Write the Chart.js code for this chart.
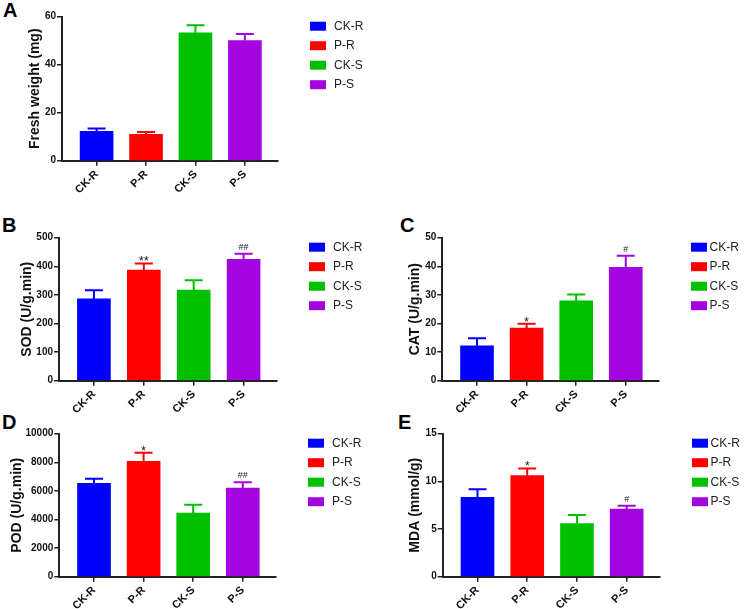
<!DOCTYPE html>
<html>
<head>
<meta charset="utf-8">
<script src="https://cdn.jsdelivr.net/npm/chart.js@4.4.1/dist/chart.umd.min.js"></script>
<style>
  body { margin: 0; background: #fff; }
  #wrap { position: relative; width: 746px; height: 609px; overflow: hidden; }
  canvas { position: absolute; }
  .tag { position: absolute; font: bold 20px "Liberation Sans", Arial, sans-serif; line-height: 20px; color: #000; }
</style>
</head>
<body>
<div id="wrap">
  <div class="tag" style="left:3px;top:0px">A</div>
  <div class="tag" style="left:2px;top:215px">B</div>
  <div class="tag" style="left:400px;top:215px">C</div>
  <div class="tag" style="left:2px;top:412px">D</div>
  <div class="tag" style="left:398px;top:412px">E</div>
  <canvas id="pA" width="350" height="215" style="left:23px;top:0px"></canvas>
  <canvas id="pB" width="358" height="215" style="left:15px;top:200px"></canvas>
  <canvas id="pC" width="342" height="215" style="left:403px;top:200px"></canvas>
  <canvas id="pD" width="368" height="215" style="left:5px;top:395px"></canvas>
  <canvas id="pE" width="342" height="215" style="left:403px;top:395px"></canvas>
</div>
<script>
const groups = ['CK-R', 'P-R', 'CK-S', 'P-S'];
const groupColors = ['#0000FF', '#FF0000', '#00C000', '#A305E0'];

// means and SD
const freshWeight = [12.2, 11.0, 53.3, 50.1];
const freshWeightSd = [1.2, 1.0, 3.1, 2.7];
const sod = [286, 387, 317, 424];
const sodSd = [30, 23, 34, 20];
const sodMarks = ['', '**', '', '##'];
const cat = [12.2, 18.4, 27.9, 39.6];
const catSd = [2.6, 1.5, 2.2, 4.1];
const catMarks = ['', '*', '', '#'];
const pod = [6530, 8065, 4450, 6200];
const podSd = [325, 605, 585, 400];
const podMarks = ['', '*', '', '##'];
const mda = [8.32, 10.6, 5.56, 7.1];
const mdaSd = [0.84, 0.76, 0.91, 0.35];
const mdaMarks = ['', '*', '', '#'];

const FONT = '"Liberation Sans", Arial, sans-serif';
const INK = '#111';

const errorBars = {
    id: 'errorBars',
    afterDatasetsDraw(chart, args, opts) {
        const ctx = chart.ctx;
        const xs = chart.scales.x, ys = chart.scales.y;
        ctx.save();
        opts.values.forEach((v, i) => {
            const x = xs.getPixelForValue(i);
            const y0 = ys.getPixelForValue(v);
            const y1 = ys.getPixelForValue(v + opts.sd[i]);
            ctx.strokeStyle = groupColors[i];
            ctx.lineWidth = 2;
            ctx.beginPath();
            ctx.moveTo(x, y0);
            ctx.lineTo(x, y1);
            ctx.moveTo(x - 9, y1);
            ctx.lineTo(x + 9, y1);
            ctx.stroke();
            const m = opts.marks ? opts.marks[i] : '';
            if (m) {
                ctx.fillStyle = '#222';
                ctx.textAlign = 'center';
                ctx.textBaseline = 'alphabetic';
                if (m[0] === '*') {
                    ctx.font = '13px ' + FONT;
                    ctx.fillText(m, x, y1 + 2);
                } else {
                    ctx.font = '9px ' + FONT;
                    ctx.fillText(m, x, y1 - 4);
                }
            }
        });
        ctx.restore();
    }
};

const sideLegend = {
    id: 'sideLegend',
    afterDraw(chart, args, opts) {
        const ctx = chart.ctx;
        const area = chart.chartArea;
        ctx.save();
        chart.data.datasets.forEach((ds, i) => {
            const bx = area.right + 32;
            const cy = area.top + 9.5 + i * 19.5;
            ctx.fillStyle = ds.backgroundColor;
            ctx.fillRect(bx, cy - 4.5, 16, 9);
            ctx.fillStyle = '#222';
            ctx.font = '12px ' + FONT;
            ctx.textAlign = 'left';
            ctx.textBaseline = 'middle';
            ctx.fillText(ds.label, bx + opts.textGap, cy);
        });
        ctx.restore();
    }
};

function makePanel(id, values, sd, marks, yMax, yStep, title, box) {
    const canvas = document.getElementById(id);
    const ctx = canvas.getContext('2d');
    return new Chart(ctx, {
        type: 'bar',
        data: {
            datasets: groups.map((g, i) => ({
                label: g,
                data: [{ x: i, y: values[i] }],
                backgroundColor: groupColors[i],
                borderWidth: 0,
                barThickness: 33,
                grouped: false
            }))
        },
        options: {
            responsive: false,
            animation: false,
            events: [],
            layout: { padding: { top: box.padTop, right: box.padRight, left: 0, bottom: 0 } },
            plugins: {
                legend: { display: false },
                tooltip: { enabled: false },
                errorBars: { values: values, sd: sd, marks: marks },
                sideLegend: { textGap: box.textGap }
            },
            scales: {
                x: {
                    type: 'linear',
                    offset: false,
                    min: -0.7,
                    max: 3.67,
                    afterBuildTicks: s => { s.ticks = groups.map((g, i) => ({ value: i })); },
                    afterFit: s => { s.height = box.xHeight; },
                    ticks: {
                        autoSkip: false,
                        minRotation: 45,
                        maxRotation: 45,
                        padding: 2,
                        color: INK,
                        font: { family: FONT, size: 11, weight: 'bold' },
                        callback: v => groups[v]
                    },
                    grid: { offset: false, drawOnChartArea: false, tickLength: 5, color: '#222', lineWidth: 1.5 },
                    border: { color: '#222', width: 2 }
                },
                y: {
                    min: 0,
                    max: yMax,
                    afterFit: s => { s.width = box.yWidth; },
                    ticks: {
                        stepSize: yStep,
                        padding: 1,
                        color: INK,
                        font: { family: FONT, size: 10, weight: 'bold' },
                        callback: v => String(v)
                    },
                    title: {
                        display: true,
                        text: title,
                        color: INK,
                        padding: { top: 4, bottom: 4 },
                        font: { family: FONT, size: 14, weight: 'bold' }
                    },
                    grid: { drawOnChartArea: false, tickLength: 5, color: '#222', lineWidth: 1.5 },
                    border: { color: '#222', width: 2 }
                }
            }
        },
        plugins: [errorBars, sideLegend]
    });
}

makePanel('pA', freshWeight, freshWeightSd, null, 60, 20, 'Fresh weight (mg)',
    { padTop: 16.7, padRight: 95, yWidth: 39, xHeight: 54.3, textGap: 24 });
makePanel('pB', sod, sodSd, sodMarks, 500, 100, 'SOD (U/g.min)',
    { padTop: 37.7, padRight: 96, yWidth: 44, xHeight: 34.3, textGap: 24 });
makePanel('pC', cat, catSd, catMarks, 50, 10, 'CAT (U/g.min)',
    { padTop: 37.7, padRight: 86, yWidth: 39.3, xHeight: 34.3, textGap: 18.5 });
makePanel('pD', pod, podSd, podMarks, 10000, 2000, 'POD (U/g.min)',
    { padTop: 38.7, padRight: 97, yWidth: 54.3, xHeight: 33.3, textGap: 24 });
makePanel('pE', mda, mdaSd, mdaMarks, 15, 5, 'MDA (mmol/g)',
    { padTop: 38.7, padRight: 85, yWidth: 39.7, xHeight: 33.3, textGap: 18.5 });
</script>
</body>
</html>
